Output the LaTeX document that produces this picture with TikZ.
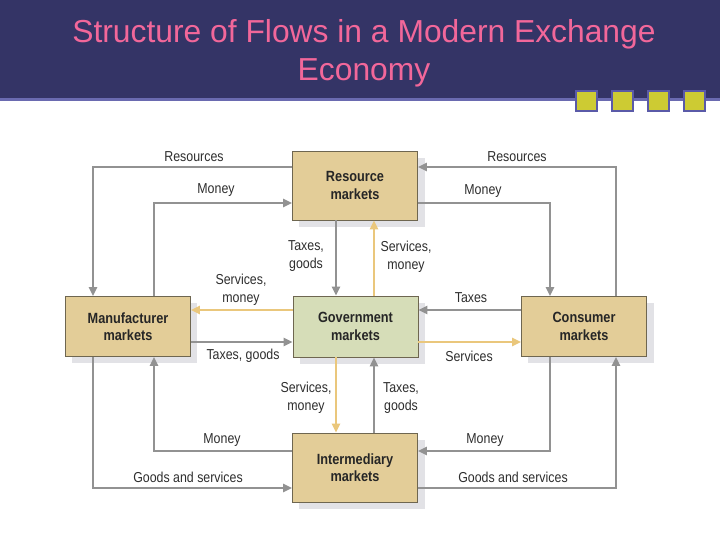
\documentclass[tikz,border=0pt]{standalone}
\usepackage{fontspec}
\setmainfont{Liberation Sans}
\newfontfamily\narrowfont[FakeStretch=0.86]{Liberation Sans}
\usetikzlibrary{arrows.meta,calc}
\definecolor{navy}{HTML}{343466}
\definecolor{bandline}{HTML}{6A6AB0}
\definecolor{titlepink}{HTML}{F2679A}
\definecolor{sqfill}{HTML}{CDCB33}
\definecolor{sqborder}{HTML}{5A5AA8}
\definecolor{tan}{HTML}{E3CD98}
\definecolor{govgreen}{HTML}{D6DDB8}
\definecolor{boxborder}{HTML}{6E6650}
\definecolor{shadowgray}{HTML}{E2E2E6}
\definecolor{flowgray}{HTML}{929292}
\definecolor{flowyellow}{HTML}{EAC77C}
\definecolor{labeltext}{HTML}{2E2E2E}
\tikzset{
  x=1pt,y=-1pt,
  market/.style={draw=boxborder,line width=0.9pt,minimum width=125pt,inner sep=0pt,
    align=center,font=\narrowfont\bfseries\fontsize{14.8}{17.5}\selectfont,text=black!85},
  tanbox/.style={market,fill=tan},
  greenbox/.style={market,fill=govgreen},
  flow/.style={draw=flowgray,line width=2.7pt,-{Triangle[length=9pt,width=8pt]}},
  yflow/.style={draw=flowyellow,line width=2.7pt,-{Triangle[length=9pt,width=8pt]}},
  lbl/.style={font=\narrowfont\fontsize{14.4}{17.5}\selectfont,text=labeltext,align=center,inner sep=1pt},
  sq/.style={draw=sqborder,line width=1.2pt,fill=sqfill},
}
\begin{document}
\begin{tikzpicture}
\useasboundingbox (0,0) rectangle (720,540);
\fill[white] (0,0) rectangle (720,540);
% header
\fill[navy] (0,0) rectangle (720,99);
\fill[bandline] (0,98) rectangle (720,101);
\node[font=\fontsize{31.8}{38.5}\selectfont,text=titlepink,align=center] (title) at (364,53.5)
  {Structure of Flows in a Modern Exchange\\Economy};
\draw[sq] (576,91) rectangle (597,111);
\draw[sq] (612,91) rectangle (633,111);
\draw[sq] (648,91) rectangle (669,111);
\draw[sq] (684,91) rectangle (705,111);
% shadows
\fill[shadowgray] (299,158) rectangle (425,227);
\fill[shadowgray] (72,303) rectangle (197,363);
\fill[shadowgray] (300,303) rectangle (425,364);
\fill[shadowgray] (528,303) rectangle (654,363);
\fill[shadowgray] (299,440) rectangle (425,509);
% boxes
\node[tanbox,minimum height=69pt] (res) at (355,185.5) {Resource\\markets};
\node[tanbox,minimum height=60pt] (man) at (128,326.5) {Manufacturer\\markets};
\node[greenbox,minimum height=61pt] (gov) at (355.5,326.5) {Government\\markets};
\node[tanbox,minimum height=60pt] (con) at (584,326.5) {Consumer\\markets};
\node[tanbox,minimum height=69pt] (int) at (355,467.5) {Intermediary\\markets};
% outer flows top
\coordinate (r1) at (res.west |- 0,167);
\draw[flow] (r1) -| (93,0 |- man.north);
\coordinate (m1) at (154,0 |- man.north);
\draw[flow] (m1) |- (res.west |- 0,203);
\coordinate (c1) at (616,0 |- con.north);
\draw[flow] (c1) |- (res.east |- 0,167);
\coordinate (r2) at (res.east |- 0,203);
\draw[flow] (r2) -| (550,0 |- con.north);
% outer flows bottom
\coordinate (i1) at (int.west |- 0,451);
\draw[flow] (i1) -| (154,0 |- man.south);
\coordinate (m2) at (93,0 |- man.south);
\draw[flow] (m2) |- (int.west |- 0,488);
\coordinate (c2) at (550,0 |- con.south);
\draw[flow] (c2) |- (int.east |- 0,451);
\coordinate (i2) at (int.east |- 0,488);
\draw[flow] (i2) -| (616,0 |- con.south);
% vertical inner flows
\draw[flow] (336,0 |- res.south) -- (336,0 |- gov.north);
\draw[yflow] (374,0 |- gov.north) -- (374,0 |- res.south);
\draw[yflow] (336,0 |- gov.south) -- (336,0 |- int.north);
\draw[flow] (374,0 |- int.north) -- (374,0 |- gov.south);
% horizontal inner flows
\draw[yflow] (gov.west |- 0,310) -- (man.east |- 0,310);
\draw[flow] (man.east |- 0,342) -- (gov.west |- 0,342);
\draw[flow] (con.west |- 0,310) -- (gov.east |- 0,310);
\draw[yflow] (gov.east |- 0,342) -- (con.west |- 0,342);
% labels
\node[lbl] (l1) at (194,157) {Resources};
\node[lbl] (l2) at (216,190) {Money};
\node[lbl] (l3) at (517,157) {Resources};
\node[lbl] (l4) at (483,191) {Money};
\node[lbl] (l5) at (306,256) {Taxes,\\goods};
\node[lbl] (l6) at (406,257) {Services,\\money};
\node[lbl] (l7) at (241,290) {Services,\\money};
\node[lbl] (l8) at (243,356) {Taxes, goods};
\node[lbl] (l9) at (471,298) {Taxes};
\node[lbl] (l10) at (469,356) {Services};
\node[lbl] (l11) at (306,398) {Services,\\money};
\node[lbl] (l12) at (401,398) {Taxes,\\goods};
\node[lbl] (l13) at (222,440) {Money};
\node[lbl] (l14) at (188,477) {Goods and services};
\node[lbl] (l15) at (485,440) {Money};
\node[lbl] (l16) at (513,477) {Goods and services};
\end{tikzpicture}
\end{document}
